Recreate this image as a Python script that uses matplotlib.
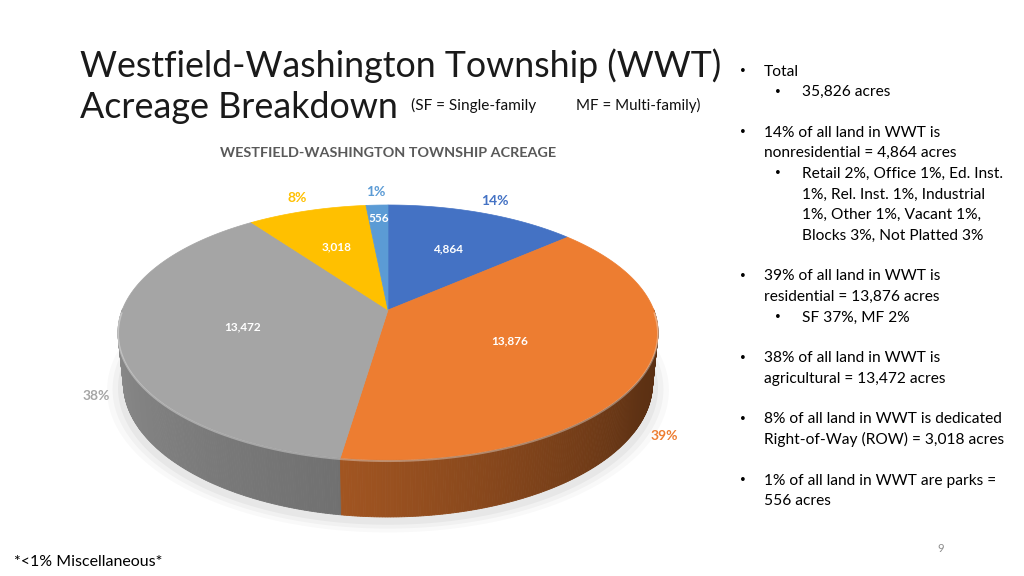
import numpy as np
import matplotlib
matplotlib.use("Agg")
import matplotlib.pyplot as plt
from matplotlib.patches import Polygon
from matplotlib.colors import to_rgb

# ---------------- data ----------------
categories = ["Nonresidential", "Residential", "Agricultural", "Right-of-Way", "Parks"]
acres = [4864, 13876, 13472, 3018, 556]
pct_labels = ["14%", "39%", "38%", "8%", "1%"]
colors = ["#4472C4", "#ED7D31", "#A5A5A5", "#FFC000", "#5B9BD5"]

chart_title = "WESTFIELD-WASHINGTON TOWNSHIP ACREAGE"
title_line1 = "Westfield-Washington Township (WWT)"
title_line2 = "Acreage Breakdown"
sub_left = "(SF = Single-family"
sub_right = "MF = Multi-family)"
footnote = "*<1% Miscellaneous*"
page_no = "9"
bullets = [  # (level, bullet?, text)
    (1, True, "Total"),
    (2, True, "35,826 acres"),
    (0, False, ""),
    (1, True, "14% of all land in WWT is"),
    (1, False, "nonresidential = 4,864 acres"),
    (2, True, "Retail 2%, Office 1%, Ed. Inst."),
    (2, False, "1%, Rel. Inst. 1%, Industrial"),
    (2, False, "1%, Other 1%, Vacant 1%,"),
    (2, False, "Blocks 3%, Not Platted 3%"),
    (0, False, ""),
    (1, True, "39% of all land in WWT is"),
    (1, False, "residential = 13,876 acres"),
    (2, True, "SF 37%, MF 2%"),
    (0, False, ""),
    (1, True, "38% of all land in WWT is"),
    (1, False, "agricultural = 13,472 acres"),
    (0, False, ""),
    (1, True, "8% of all land in WWT is dedicated"),
    (1, False, "Right-of-Way (ROW) = 3,018 acres"),
    (0, False, ""),
    (1, True, "1% of all land in WWT are parks ="),
    (1, False, "556 acres"),
]

# ---------------- figure ----------------
fig = plt.figure(figsize=(10.24, 5.76), dpi=100)
ax = fig.add_axes([0, 0, 1, 1])
ax.set_xlim(0, 1024)
ax.set_ylim(576, 0)
ax.axis("off")
renderer = fig.canvas.get_renderer()

# 3D perspective projection of the pie
CX, CY = 388.0, 310.0
F = 1337.0
D = 5.03
SE, CE = 0.4646, 0.8855
H = 0.2176


def project(r, th_deg, level=0.0):
    th = np.radians(th_deg)
    X = r * np.cos(th)
    Z = r * np.sin(th)
    yv = level * CE + Z * SE
    zv = -level * SE + Z * CE
    den = D + zv
    return CX + F * X / den, CY - F * yv / den


def shade(c, k):
    r, g, b = to_rgb(c)
    return (r * k, g * k, b * k)


total = float(sum(acres))
cum = np.concatenate([[0], np.cumsum(acres)]) / total * 360.0
th_start = 90 - cum[:-1]
th_end = 90 - cum[1:]

# soft shadow
for rr, a in [(1.06, 0.025), (1.04, 0.03), (1.02, 0.04)]:
    ths = np.linspace(0, 360, 300)
    pts = [project(rr, t, -H) for t in ths]
    pts = [(x, y + 4) for x, y in pts]
    ax.add_patch(Polygon(pts, closed=True, facecolor="black", edgecolor="none", alpha=a, zorder=1))

# side walls
strips = []
for i in range(len(acres)):
    a0, a1 = th_end[i], th_start[i]
    n = max(2, int((a1 - a0) / 0.5))
    edges = np.linspace(a0, a1, n + 1)
    for ta, tb in zip(edges[:-1], edges[1:]):
        tm = 0.5 * (ta + tb)
        s = np.sin(np.radians(tm))
        if s > 0.01:
            continue
        t360 = tm % 360
        k = np.interp(t360, [180, 262, 330, 360], [0.86, 0.68, 0.40, 0.36])
        col = shade(colors[i], k)
        poly = [project(1, ta, 0), project(1, tb, 0), project(1, tb, -H), project(1, ta, -H)]
        strips.append((s, poly, col))
strips.sort(key=lambda x: -x[0])
for s, poly, col in strips:
    ax.add_patch(Polygon(poly, closed=True, facecolor=col, edgecolor=col, lw=0.6, zorder=2))

# top faces
for i in range(len(acres)):
    ths = np.linspace(th_start[i], th_end[i], 200)
    pts = [project(0, 0, 0)] + [project(1, t, 0) for t in ths]
    ax.add_patch(Polygon(pts, closed=True, facecolor=colors[i], edgecolor=colors[i], lw=0.5, zorder=3))

# rim highlight on front edge
ths = np.linspace(181, 359, 200)
rim = np.array([project(1, t, 0) for t in ths])
ax.plot(rim[:, 0], rim[:, 1] + 1.2, color="white", alpha=0.35, lw=1.4, zorder=4)

# labels
inner_r = [0.6, 0.5, 0.55, 0.6, 0.85]
for i in range(len(acres)):
    mid = 0.5 * (th_start[i] + th_end[i])
    x, y = project(inner_r[i], mid, 0)
    ax.text(x, y, f"{acres[i]:,}", color="white", fontsize=8.5, fontweight="bold",
            family="Lato", ha="center", va="center", zorder=5)
    if np.sin(np.radians(mid)) > 0:
        px, py = project(1.15, mid, 0)
    else:
        px, py = project(1.1, mid, -H)
    ax.text(px, py, pct_labels[i], color=colors[i], fontsize=10, fontweight="bold",
            family="Lato", ha="center", va="center", zorder=5)


def fit(t, target_w):
    w = t.get_window_extent(renderer).width
    t.set_fontsize(t.get_fontsize() * target_w / w)
    return t


ct = ax.text(388, 153, chart_title, color="#595959", fontsize=10, fontweight="bold",
             family="Lato", ha="center", va="center")
fit(ct, 336)

t1 = ax.text(80, 77, title_line1, color="#1a1a1a", fontsize=28, fontweight="normal",
             family="Lato", ha="left", va="baseline")
fit(t1, 642)
t2 = ax.text(80, 118, title_line2, color="#1a1a1a", fontsize=28, fontweight="normal",
             family="Lato", ha="left", va="baseline")
fit(t2, 318)
s1 = ax.text(411, 110, sub_left, color="#111111", fontsize=10, family="Lato",
             ha="left", va="baseline")
fit(s1, 125)
s2 = ax.text(576, 110, sub_right, color="#111111", fontsize=10, family="Lato",
             ha="left", va="baseline")
fit(s2, 124)

# right-hand bullet list
probe = ax.text(0, 0, "8% of all land in WWT is dedicated", fontsize=11, family="Lato")
fit(probe, 237)
body_size = probe.get_fontsize()
probe.remove()

y = 71.5
line_h = 20.6
for level, has_b, txt in bullets:
    if level == 0:
        y += 20.0
        continue
    tx = 764 if level == 1 else 802
    bx = 743 if level == 1 else 778
    if has_b:
        ax.text(bx, y, "\u2022", fontsize=body_size * 0.85, family="DejaVu Sans",
                ha="center", va="center", color="black")
    ax.text(tx, y, txt, fontsize=body_size, family="Lato", ha="left", va="center", color="black")
    y += line_h

fn = ax.text(14, 562, footnote, fontsize=11, family="Lato", ha="left", va="center", color="black")
fit(fn, 148)
ax.text(941, 548, page_no, fontsize=8, family="Lato", ha="center", va="center", color="#8C8C8C")

fig.savefig("out.png", dpi=100)
